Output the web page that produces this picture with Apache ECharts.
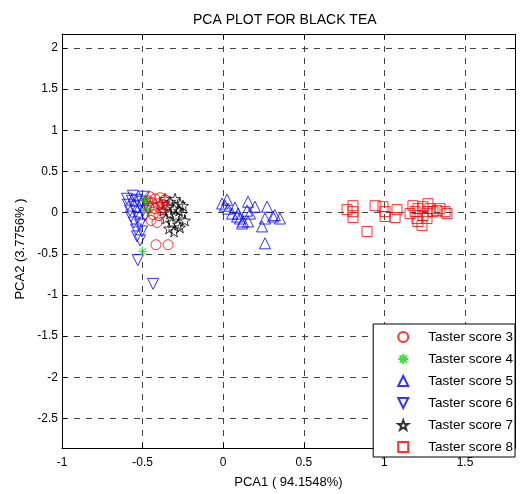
<!DOCTYPE html>
<html>
<head>
<meta charset="utf-8">
<script src="https://cdn.jsdelivr.net/npm/echarts@6/dist/echarts.min.js"></script>
<style>
  html, body { margin: 0; padding: 0; background: #fff; }
  #pca-chart { width: 520px; height: 494px; }
</style>
</head>
<body>
<div id="pca-chart"></div>
<script>
// score groups, [PCA1, PCA2]
const score3 = [
  [-0.454, 0.193], [-0.423, 0.168], [-0.392, 0.18], [-0.361, 0.156], [-0.442, 0.12],
  [-0.404, 0.108], [-0.373, 0.096], [-0.46, 0.06], [-0.423, 0.048], [-0.386, 0.036],
  [-0.349, 0.072], [-0.435, -0.024], [-0.398, -0.036], [-0.448, -0.096], [-0.411, -0.12],
  [-0.467, 0.144], [-0.417, -0.39], [-0.342, -0.39]
]
const score4 = [
  [-0.49, 0.15], [-0.47, 0.12], [-0.48, 0.05], [-0.46, 0.0], [-0.47, 0.17], [-0.5, -0.47]
]
const score5 = [
  [0.024, 0.156], [0.011, 0.084], [0.03, 0.048], [0.073, 0.06], [0.055, -0.012],
  [0.092, -0.012], [0.104, -0.072], [0.086, -0.048], [0.123, -0.108], [0.154, 0.132],
  [0.148, 0.024], [0.166, -0.012], [0.197, 0.072], [0.154, -0.108], [0.117, -0.132],
  [0.272, 0.072], [0.259, -0.072], [0.241, -0.168], [0.309, -0.048], [0.352, -0.072],
  [0.259, -0.373], [-0.007, 0.11], [0.32, -0.03]
]
const score6 = [
  [-0.597, 0.168], [-0.566, 0.144], [-0.535, 0.156], [-0.504, 0.132], [-0.591, 0.096],
  [-0.553, 0.072], [-0.516, 0.084], [-0.479, 0.108], [-0.578, 0.024], [-0.541, 0.012],
  [-0.498, 0.024], [-0.572, -0.048], [-0.529, -0.06], [-0.485, -0.036], [-0.553, -0.12],
  [-0.516, -0.144], [-0.541, -0.205], [-0.504, -0.229], [-0.535, -0.289], [-0.516, -0.337],
  [-0.467, 0.048], [-0.56, 0.205], [-0.491, 0.193], [-0.53, -0.578], [-0.435, -0.866]
]
const score7 = [
  [-0.361, 0.168], [-0.33, 0.132], [-0.299, 0.168], [-0.268, 0.108], [-0.342, 0.072],
  [-0.305, 0.048], [-0.274, 0.024], [-0.249, 0.084], [-0.373, 0.024], [-0.33, -0.012],
  [-0.293, -0.036], [-0.256, -0.012], [-0.355, -0.072], [-0.318, -0.12], [-0.28, -0.144],
  [-0.336, -0.193], [-0.305, -0.229], [-0.268, -0.18], [-0.237, -0.096], [-0.392, 0.108]
]
const score8 = [
  [0.768, 0.036], [0.805, 0.084], [0.805, 0.012], [0.805, -0.06], [0.942, 0.084],
  [0.991, 0.072], [1.004, 0.012], [1.004, -0.048], [1.066, -0.06], [1.078, 0.036],
  [0.892, -0.229], [1.177, 0.084], [1.19, 0.012], [1.202, -0.072], [1.208, -0.108],
  [1.233, -0.156], [1.239, 0.072], [1.27, 0.108], [1.264, 0.012], [1.264, -0.072],
  [1.283, 0.048], [1.301, 0.012], [1.326, 0.024], [1.345, 0.048], [1.376, 0.012],
  [1.388, -0.012], [1.208, 0.048], [1.239, -0.036], [1.159, -0.012]
]

const seriesNames = ['Taster score 3', 'Taster score 4', 'Taster score 5',
  'Taster score 6', 'Taster score 7', 'Taster score 8']
const xRange = [-1, 1.81]
const yRange = [-2.86, 2.17]

const downTri = 'path://M0,0L10,0L5,10Z'
const asterisk = 'path://M0,5L10,5M5,0L5,10M1.5,1.5L8.5,8.5M1.5,8.5L8.5,1.5'
const pentagram = 'path://M5,0L6.18,3.38L9.76,3.45L6.9,5.62L7.94,9.05L5,7L2.06,9.05L3.1,5.62L0.24,3.45L3.82,3.38Z'

function group(name, data, symbol, color, size, z) {
  return {
    name: name,
    type: 'scatter',
    data: data,
    symbol: symbol,
    symbolSize: size,
    z: z,
    itemStyle: { color: 'rgba(0,0,0,0)', borderColor: color, borderWidth: 1 },
    emphasis: { disabled: true }
  }
}

const gridLine = { show: true, lineStyle: { color: '#444', type: [6, 6], width: 1 } }
const axisBase = {
  type: 'value',
  axisLine: { show: true, onZero: false, lineStyle: { color: '#000', width: 1 } },
  axisTick: { show: true, inside: true, length: 5, lineStyle: { color: '#000' } }
}

const chart = echarts.init(document.getElementById('pca-chart'))
chart.setOption({
  animation: false,
  title: {
    text: 'PCA PLOT FOR BLACK TEA',
    left: 188,
    top: 8,
    textStyle: { fontFamily: 'Liberation Sans', fontSize: 14, fontWeight: 'normal', color: '#000' }
  },
  grid: { left: 62, right: 5, top: 34, bottom: 42 },
  legend: {
    orient: 'vertical',
    right: 5,
    top: 324,
    padding: [6, 2, 3, 24],
    itemWidth: 10,
    itemHeight: 10,
    itemGap: 8,
    backgroundColor: '#fff',
    borderColor: '#000',
    borderWidth: 1,
    borderRadius: 0,
    data: seriesNames,
    textStyle: { fontFamily: 'Liberation Sans', fontSize: 13.5, color: '#000', padding: [0, 0, 0, 15] }
  },
  xAxis: [
    Object.assign({}, axisBase, {
      position: 'bottom',
      min: xRange[0], max: xRange[1], interval: 0.5,
      splitLine: gridLine,
      name: 'PCA1 ( 94.1548%)',
      nameLocation: 'middle',
      nameGap: 28,
      nameTextStyle: { fontFamily: 'Liberation Sans', fontSize: 13, color: '#000' },
      axisLabel: { showMaxLabel: false, margin: 9, fontFamily: 'Liberation Sans', fontSize: 12, color: '#000' }
    }),
    Object.assign({}, axisBase, {
      position: 'top',
      min: xRange[0], max: xRange[1], interval: 0.5,
      splitLine: { show: false },
      axisLabel: { show: false }
    })
  ],
  yAxis: [
    Object.assign({}, axisBase, {
      position: 'left',
      min: yRange[0], max: yRange[1], splitNumber: 10,
      splitLine: gridLine,
      name: 'PCA2 (3.7756% )',
      nameLocation: 'middle',
      nameGap: 27,
      nameTextStyle: { fontFamily: 'Liberation Sans', fontSize: 13, color: '#000', padding: [0, 16, 0, 0] },
      axisLabel: { showMaxLabel: false, showMinLabel: false, margin: 4, fontFamily: 'Liberation Sans', fontSize: 12, color: '#000' }
    }),
    Object.assign({}, axisBase, {
      position: 'right',
      min: yRange[0], max: yRange[1], splitNumber: 10,
      splitLine: { show: false },
      axisLabel: { show: false }
    })
  ],
  series: [
    group(seriesNames[0], score3, 'circle', '#ff0000', 10, 4),
    group(seriesNames[1], score4, asterisk, '#00dd00', 9, 3),
    group(seriesNames[2], score5, 'triangle', '#0000ff', 11, 2),
    group(seriesNames[3], score6, downTri, '#0000ff', 11, 2),
    group(seriesNames[4], score7, pentagram, '#000000', 11, 2),
    group(seriesNames[5], score8, 'rect', '#ff0000', 10, 2)
  ]
})
</script>
</body>
</html>
